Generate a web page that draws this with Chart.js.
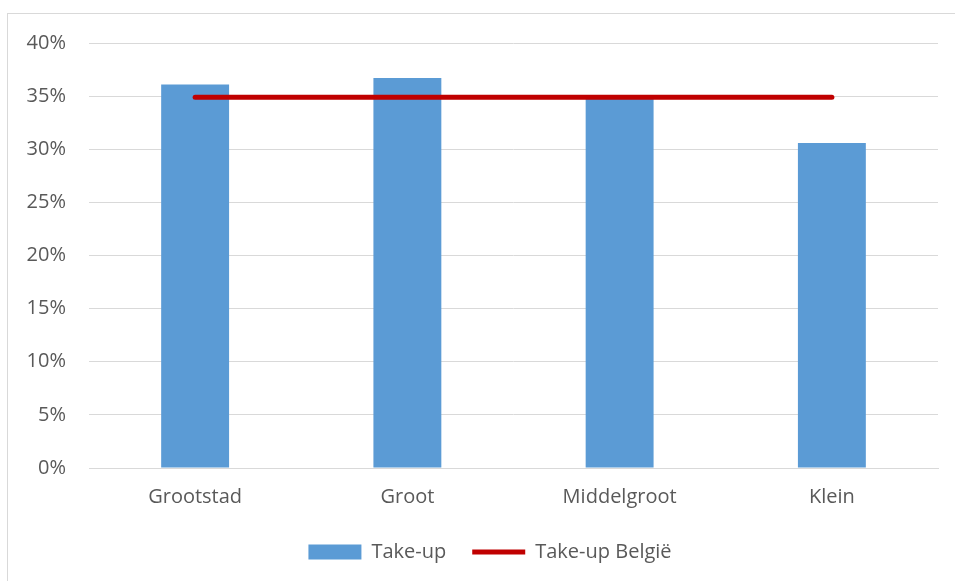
<!DOCTYPE html>
<html>
<head>
<meta charset="utf-8">
<script src="https://cdn.jsdelivr.net/npm/chart.js@4.4.1/dist/chart.umd.min.js"></script>
<style>
    html, body { margin: 0; padding: 0; background: #fff; overflow: hidden; }
    #wrap { position: absolute; left: 0; top: 0; width: 955px; height: 581px; }
    #frame { position: absolute; left: 7px; top: 13px; width: 1000px; height: 1000px; border: 1px solid #d9d9d9; pointer-events: none; }
</style>
</head>
<body>
<div id="wrap"><canvas id="chart" width="955" height="581"></canvas></div>
<div id="frame"></div>
<script>
// Take-up per gemeentegrootte
const categories = ['Grootstad', 'Groot', 'Middelgroot', 'Klein'];
const takeUp = [36.1, 36.7, 34.9, 30.6];
const takeUpBelgie = [34.9, 34.9, 34.9, 34.9];
const yTicks = [0, 5, 10, 15, 20, 25, 30, 35, 40];

const textColor = '#595959';
const gridColor = '#d9d9d9';
const fontFamily = "'Open Sans', 'Noto Sans', sans-serif";

document.addEventListener('DOMContentLoaded', () => {
    initTakeUpChart();
});

// Legend sits a bit right of centre in the original
const legendShift = {
    id: 'legendShift',
    afterLayout: (chart) => {
        if (!chart.legend) return;
        chart.legend.left += 21;
        chart.legend.right += 21;
    }
};

function initTakeUpChart() {
    const ctx = document.getElementById('chart');

    new Chart(ctx, {
        data: {
            labels: categories,
            datasets: [
                {
                    type: 'bar',
                    label: 'Take-up',
                    data: takeUp,
                    backgroundColor: '#5b9bd5',
                    borderWidth: 0,
                    barPercentage: 0.32,
                    categoryPercentage: 1,
                    pointStyle: 'rect',
                    order: 1
                },
                {
                    type: 'line',
                    label: 'Take-up België',
                    data: takeUpBelgie,
                    borderColor: '#c00000',
                    backgroundColor: '#c00000',
                    borderWidth: 5,
                    borderCapStyle: 'round',
                    pointRadius: 0,
                    pointStyle: 'line',
                    tension: 0,
                    fill: false,
                    order: 0
                }
            ]
        },
        options: {
            responsive: false,
            animation: false,
            layout: {
                padding: { left: 0, right: 17, top: 43, bottom: 9 }
            },
            plugins: {
                legend: {
                    display: true,
                    position: 'bottom',
                    labels: {
                        color: textColor,
                        font: { family: fontFamily, size: 20 },
                        usePointStyle: true,
                        pointStyleWidth: 53,
                        boxHeight: 15,
                        padding: 26,
                        sort: (a, b) => a.datasetIndex - b.datasetIndex
                    }
                },
                tooltip: { enabled: false }
            },
            scales: {
                x: {
                    offset: true,
                    grid: { display: false },
                    border: { color: gridColor, width: 1 },
                    ticks: {
                        color: textColor,
                        font: { family: fontFamily, size: 20 },
                        padding: 9
                    },
                    afterFit: (scale) => { scale.height = 48; }
                },
                y: {
                    min: 0,
                    max: 40,
                    afterBuildTicks: (scale) => {
                        scale.ticks = yTicks.map(v => ({ value: v }));
                    },
                    grid: { color: gridColor, lineWidth: 1, drawTicks: false },
                    border: { display: false },
                    ticks: {
                        color: textColor,
                        font: { family: fontFamily, size: 20 },
                        padding: 23,
                        callback: (value) => value + '%'
                    },
                    afterFit: (scale) => { scale.width = 89; }
                }
            }
        },
        plugins: [legendShift]
    });
}
</script>
</body>
</html>
